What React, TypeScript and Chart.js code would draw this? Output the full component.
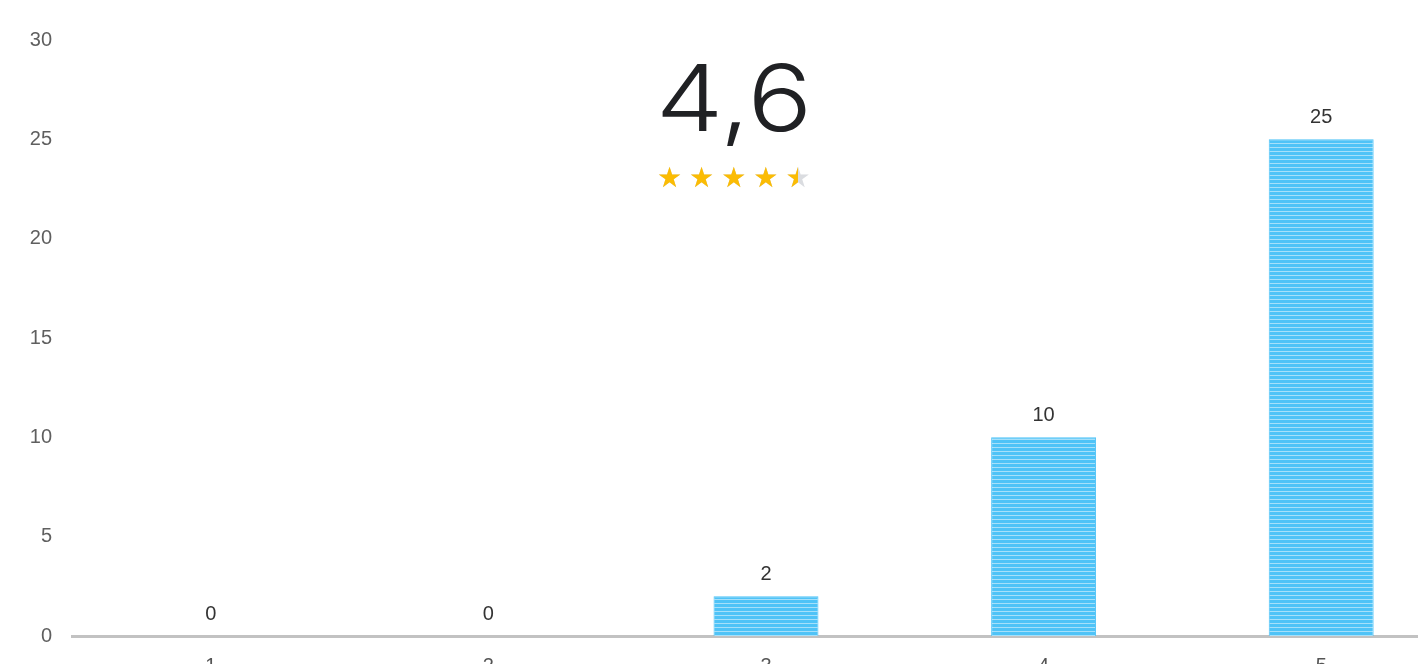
import React, { useEffect, useRef } from "react";
import { Chart, registerables } from "chart.js";

Chart.register(...registerables);

const categories = ["1", "2", "3", "4", "5"];
const counts = [0, 0, 2, 10, 25];
const yTicks = [0, 5, 10, 15, 20, 25, 30];
const ratingText = "4,6";
const ratingValue = 4.6;

function makeStripePattern(): CanvasPattern | string {
  const c = document.createElement("canvas");
  c.width = 4;
  c.height = 4;
  const g = c.getContext("2d");
  if (!g) return "#4fc3f7";
  g.fillStyle = "#4fc3f7";
  g.fillRect(0, 0, 4, 4);
  g.fillStyle = "#a6e0fa";
  g.fillRect(0, 3, 4, 1);
  const main = document.createElement("canvas").getContext("2d");
  const p = main ? main.createPattern(c, "repeat") : null;
  return p || "#4fc3f7";
}

const valueLabels = {
  id: "valueLabels",
  afterDatasetsDraw(chart: any) {
    const ctx = chart.ctx;
    const meta = chart.getDatasetMeta(0);
    ctx.save();
    ctx.font = "20px 'Liberation Sans', Arial, sans-serif";
    ctx.fillStyle = "#333333";
    ctx.textAlign = "center";
    ctx.textBaseline = "bottom";
    meta.data.forEach((el: any, i: number) => {
      ctx.fillText(String(counts[i]), el.x, el.y - 12);
    });
    ctx.restore();
  },
};

function Stars({ value }: { value: number }) {
  const shown = Math.round(value * 2) / 2;
  const items = [];
  for (let i = 0; i < 5; i++) {
    const fill = Math.max(0, Math.min(1, shown - i));
    items.push(
      <span
        key={i}
        style={{ position: "relative", display: "inline-block", marginRight: 7, color: "#dadce0" }}
      >
        ★
        <span
          style={{
            position: "absolute",
            left: 0,
            top: 0,
            width: `${fill * 100}%`,
            overflow: "hidden",
            color: "#fbbc04",
            whiteSpace: "nowrap",
          }}
        >
          ★
        </span>
      </span>
    );
  }
  return (
    <div style={{ fontFamily: "'DejaVu Sans', sans-serif", fontSize: 28, lineHeight: "30px", whiteSpace: "nowrap" }}>
      {items}
    </div>
  );
}

export default function App() {
  const ref = useRef<HTMLCanvasElement | null>(null);

  useEffect(() => {
    document.documentElement.style.overflow = "hidden";
    document.body.style.margin = "0";
    const canvas = ref.current;
    if (!canvas) return;
    const pattern = makeStripePattern();
    const chart = new Chart(canvas, {
      type: "bar",
      data: {
        labels: categories,
        datasets: [
          {
            data: counts,
            backgroundColor: pattern as any,
            borderColor: "#4fc3f7",
            borderWidth: 1,
            categoryPercentage: 1,
            barPercentage: 0.378,
          },
        ],
      },
      options: {
        responsive: false,
        animation: false,
        devicePixelRatio: 1,
        layout: { padding: { top: 18, right: 0, left: 0, bottom: 0 } },
        plugins: {
          legend: { display: false },
          tooltip: { enabled: false },
        },
        scales: {
          x: {
            grid: { display: false, drawTicks: false },
            border: { display: true, color: "#c2c2c2", width: 3 },
            ticks: {
              color: "#555555",
              padding: 18,
              font: { size: 20, family: "'Liberation Sans', Arial, sans-serif" },
            },
          },
          y: {
            min: 0,
            max: 30,
            afterFit: (scale: any) => {
              scale.width = 64;
            },
            afterBuildTicks: (scale: any) => {
              scale.ticks = yTicks.map((v) => ({ value: v }));
            },
            grid: { display: false, drawTicks: false },
            border: { display: false },
            ticks: {
              color: "#5f5f5f",
              padding: 20,
              font: { size: 20, family: "'Liberation Sans', Arial, sans-serif" },
            },
          },
        },
      },
      plugins: [valueLabels],
    });
    return () => chart.destroy();
  }, []);

  return (
    <div style={{ position: "relative", left: 8, top: 8, width: 1452, height: 688 }}>
      <canvas ref={ref} width={1452} height={688} style={{ display: "block" }} />
      <div
        style={{
          position: "absolute",
          left: 734 - 8 - 150,
          top: 38 - 8,
          width: 300,
          textAlign: "center",
          fontFamily: "Inter, sans-serif",
          fontWeight: 300,
          fontSize: 92,
          lineHeight: "120px",
          color: "#202124",
          transform: "scaleX(1.17)",
        }}
      >
        {ratingText}
      </div>
      <div style={{ position: "absolute", left: 657 - 8, top: 163 - 8 }}>
        <Stars value={ratingValue} />
      </div>
    </div>
  );
}
